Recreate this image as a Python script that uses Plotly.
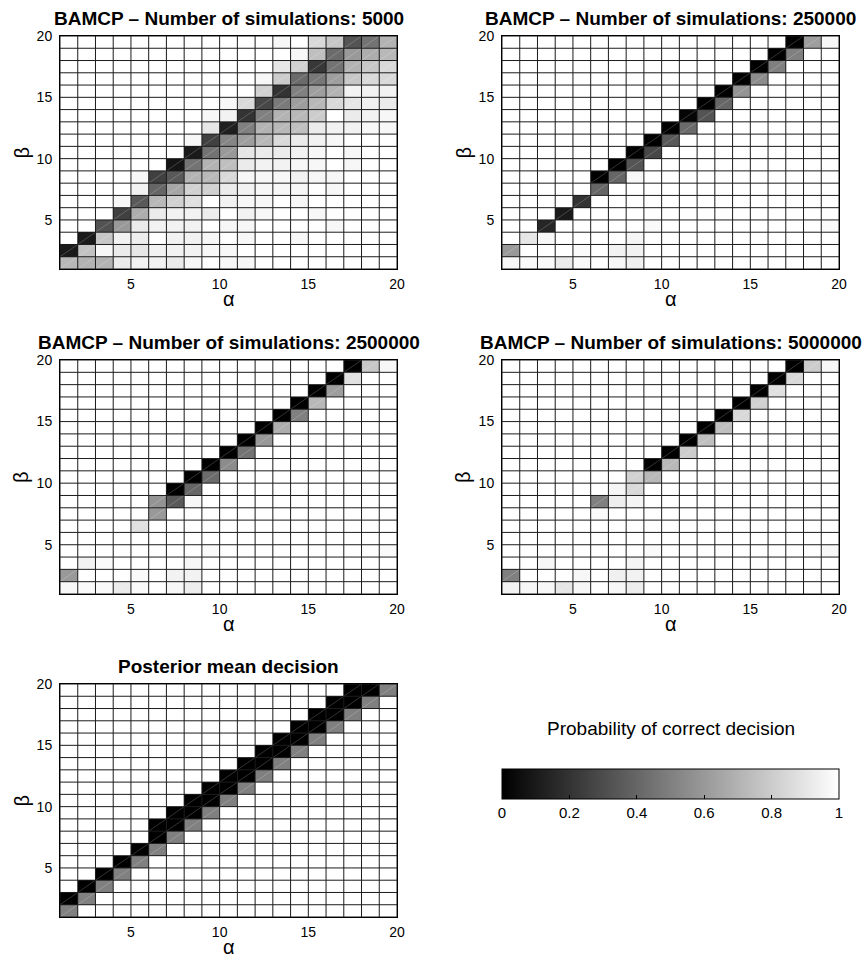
import plotly.graph_objects as go

# ---------------- data ----------------
alpha_edges = [1, 2, 3, 4, 5, 6, 7, 8, 9, 10, 11, 12, 13, 14, 15, 16, 17, 18, 19, 20]
beta_edges = [1, 2, 3, 4, 5, 6, 7, 8, 9, 10, 11, 12, 13, 14, 15, 16, 17, 18, 19, 20]
axis_ticks = [5, 10, 15, 20]
cb_ticks = [0, 0.2, 0.4, 0.6, 0.8, 1]
cb_ticktext = ["0", "0.2", "0.4", "0.6", "0.8", "1"]
cb_title = "Probability of correct decision"
panel_titles = [
    "BAMCP \u2013 Number of simulations: 5000",
    "BAMCP \u2013 Number of simulations: 250000",
    "BAMCP \u2013 Number of simulations: 2500000",
    "BAMCP \u2013 Number of simulations: 5000000",
    "Posterior mean decision",
]

# rows listed from beta=19 (top) down to beta=1 (bottom); columns alpha=1..19
sims_5000 = [
    [1, 1, 1, 1, 1, 1, 1, 1, 1, 1, 1, 1, 0.97, 1, 0.85, 0.78, 0.33, 0.45, 0.7],
    [1, 1, 1, 1, 1, 1, 1, 1, 1, 1, 1, 1, 1, 0.97, 0.75, 0.42, 0.6, 0.68, 0.72],
    [1, 1, 1, 1, 1, 1, 1, 1, 1, 1, 1, 1, 0.9, 0.82, 0.22, 0.45, 0.7, 0.78, 0.85],
    [1, 1, 1, 1, 1, 1, 1, 1, 1, 1, 1, 0.97, 0.8, 0.42, 0.47, 0.62, 0.78, 0.85, 0.85],
    [1, 1, 1, 1, 1, 1, 1, 1, 1, 1, 1, 0.82, 0.2, 0.5, 0.62, 0.7, 0.95, 0.95, 0.95],
    [1, 1, 1, 1, 1, 1, 1, 1, 1, 0.97, 0.85, 0.28, 0.48, 0.62, 0.72, 0.85, 0.9, 0.95, 0.92],
    [1, 1, 1, 1, 1, 1, 1, 1, 0.97, 0.95, 0.2, 0.5, 0.7, 0.72, 0.8, 1, 0.92, 0.95, 0.97],
    [1, 1, 1, 1, 1, 1, 1, 1, 0.9, 0.12, 0.5, 0.7, 0.72, 0.75, 0.92, 0.95, 0.95, 0.97, 0.97],
    [1, 1, 1, 1, 1, 1, 1, 0.97, 0.25, 0.52, 0.62, 0.72, 0.85, 0.92, 0.95, 0.97, 1, 1, 1],
    [1, 1, 1, 1, 1, 1, 1, 0.1, 0.45, 0.6, 0.9, 0.92, 0.92, 0.95, 0.97, 1, 0.97, 1, 1],
    [1, 1, 1, 1, 1, 1, 0.08, 0.45, 0.7, 0.75, 0.92, 0.95, 0.95, 0.97, 0.97, 1, 0.97, 1, 1],
    [1, 1, 1, 1, 0.97, 0.25, 0.35, 0.7, 0.72, 0.85, 0.97, 0.97, 0.97, 0.95, 0.97, 0.97, 1, 1, 1],
    [1, 1, 1, 1, 0.95, 0.4, 0.65, 0.82, 0.82, 0.92, 0.95, 0.97, 0.97, 0.97, 1, 0.97, 1, 1, 1],
    [1, 1, 1, 0.97, 0.35, 0.72, 0.82, 0.88, 1, 0.95, 0.97, 0.97, 1, 0.97, 1, 1, 1, 1, 1],
    [1, 1, 1, 0.25, 0.68, 0.92, 0.95, 0.95, 0.93, 1, 0.95, 0.97, 1, 1, 0.97, 1, 1, 1, 1],
    [1, 1, 0.32, 0.6, 0.92, 0.95, 0.95, 0.95, 1, 0.97, 0.97, 1, 1, 1, 1, 0.97, 1, 1, 1],
    [1, 0.1, 0.78, 0.95, 0.93, 1, 0.95, 0.95, 0.97, 1, 0.97, 1, 1, 0.97, 1, 1, 1, 1, 1],
    [0.1, 0.76, 0.97, 0.92, 0.9, 0.95, 0.95, 0.95, 0.97, 0.97, 1, 1, 1, 1, 1, 1, 1, 1, 1],
    [0.72, 0.7, 0.7, 0.92, 0.95, 0.95, 0.92, 0.97, 1, 0.97, 0.97, 1, 1, 1, 1, 1, 1, 1, 1],
]

sims_250000 = [
    [1, 1, 1, 1, 1, 1, 1, 1, 1, 1, 1, 1, 1, 1, 1, 1, 0.0, 0.62, 0.97],
    [1, 1, 1, 1, 1, 1, 1, 1, 1, 1, 1, 1, 1, 1, 1, 0.0, 0.5, 1, 1],
    [1, 1, 1, 1, 1, 1, 1, 1, 1, 1, 1, 1, 1, 1, 0.0, 0.5, 1, 1, 1],
    [1, 1, 1, 1, 1, 1, 1, 1, 1, 1, 1, 1, 1, 0.0, 0.55, 1, 1, 1, 1],
    [1, 1, 1, 1, 1, 1, 1, 1, 1, 1, 1, 1, 0.0, 0.58, 1, 1, 1, 1, 1],
    [1, 1, 1, 1, 1, 1, 1, 1, 1, 1, 1, 0.0, 0.4, 1, 1, 1, 1, 1, 1],
    [1, 1, 1, 1, 1, 1, 1, 1, 1, 1, 0.02, 0.33, 1, 1, 1, 1, 1, 1, 1],
    [1, 1, 1, 1, 1, 1, 1, 1, 1, 0.0, 0.42, 1, 1, 1, 1, 1, 1, 1, 1],
    [1, 1, 1, 1, 1, 1, 1, 1, 0.0, 0.35, 1, 1, 1, 1, 1, 1, 1, 1, 1],
    [1, 1, 1, 1, 1, 1, 1, 0.0, 0.28, 1, 1, 1, 1, 1, 1, 1, 1, 1, 1],
    [1, 1, 1, 1, 1, 1, 0.0, 0.33, 1, 1, 1, 1, 1, 1, 1, 1, 1, 1, 1],
    [1, 1, 1, 1, 1, 0.0, 0.4, 0.97, 1, 1, 1, 1, 1, 1, 1, 1, 1, 1, 1],
    [1, 1, 1, 1, 1, 0.4, 1, 1, 1, 1, 1, 1, 1, 1, 1, 1, 1, 1, 1],
    [1, 1, 1, 1, 0.2, 1, 1, 1, 1, 1, 1, 1, 1, 1, 1, 1, 1, 1, 1],
    [1, 1, 1, 0.1, 1, 1, 1, 1, 1, 1, 1, 1, 1, 1, 1, 1, 1, 1, 1],
    [1, 1, 0.15, 1, 1, 1, 1, 1, 0.98, 1, 1, 1, 1, 1, 1, 1, 1, 1, 0.98],
    [1, 0.9, 0.97, 1, 1, 1, 1, 0.96, 1, 1, 1, 1, 1, 1, 1, 1, 1, 1, 1],
    [0.6, 1, 1, 1, 0.98, 1, 0.95, 0.95, 1, 1, 1, 1, 1, 1, 1, 1, 1, 1, 1],
    [0.97, 0.98, 0.98, 0.92, 0.98, 1, 0.97, 0.94, 1, 1, 1, 1, 1, 1, 1, 1, 1, 1, 1],
]

sims_2500000 = [
    [1, 1, 1, 1, 1, 1, 1, 1, 1, 1, 1, 1, 1, 1, 1, 1, 0.0, 0.78, 0.97],
    [1, 1, 1, 1, 1, 1, 1, 1, 1, 1, 1, 1, 1, 1, 1, 0.0, 0.88, 1, 1],
    [1, 1, 1, 1, 1, 1, 1, 1, 1, 1, 1, 1, 1, 1, 0.0, 0.62, 1, 1, 1],
    [1, 1, 1, 1, 1, 1, 1, 1, 1, 1, 1, 1, 1, 0.0, 0.72, 1, 1, 1, 1],
    [1, 1, 1, 1, 1, 1, 1, 1, 1, 1, 1, 1, 0.0, 0.5, 1, 1, 1, 1, 1],
    [1, 1, 1, 1, 1, 1, 1, 1, 1, 1, 1, 0.0, 0.68, 1, 1, 1, 1, 1, 1],
    [1, 1, 1, 1, 1, 1, 1, 1, 1, 1, 0.0, 0.6, 1, 1, 1, 1, 1, 1, 1],
    [1, 1, 1, 1, 1, 1, 1, 1, 1, 0.0, 0.45, 1, 1, 1, 1, 1, 1, 1, 1],
    [1, 1, 1, 1, 1, 1, 1, 1, 0.0, 0.55, 1, 1, 1, 1, 1, 1, 1, 1, 1],
    [1, 1, 1, 1, 1, 1, 1, 0.0, 0.42, 1, 1, 1, 1, 1, 1, 1, 1, 1, 1],
    [1, 1, 1, 1, 1, 1, 0.0, 0.4, 1, 1, 1, 1, 1, 1, 1, 1, 1, 1, 1],
    [1, 1, 1, 1, 1, 0.58, 0.35, 0.97, 1, 1, 1, 1, 1, 1, 1, 1, 1, 1, 1],
    [1, 1, 1, 1, 1, 0.6, 1, 1, 1, 1, 1, 1, 1, 1, 1, 1, 1, 1, 1],
    [1, 1, 1, 1, 0.88, 1, 1, 1, 1, 1, 1, 1, 1, 1, 1, 1, 1, 1, 1],
    [1, 1, 1, 1, 1, 1, 1, 1, 1, 1, 1, 1, 1, 1, 1, 1, 1, 1, 1],
    [1, 1, 1, 1, 1, 1, 1, 1, 0.98, 1, 1, 1, 1, 1, 1, 1, 1, 1, 0.98],
    [1, 0.95, 0.98, 1, 1, 1, 1, 0.97, 1, 1, 1, 1, 1, 1, 1, 1, 1, 1, 1],
    [0.6, 1, 1, 1, 0.98, 1, 0.95, 0.95, 1, 1, 1, 1, 1, 1, 1, 1, 1, 1, 1],
    [0.97, 0.98, 0.98, 0.92, 0.98, 1, 0.97, 0.93, 1, 1, 1, 1, 1, 1, 1, 1, 1, 1, 1],
]

sims_5000000 = [
    [1, 1, 1, 1, 1, 1, 1, 1, 1, 1, 1, 1, 1, 1, 1, 1, 0.0, 0.8, 0.97],
    [1, 1, 1, 1, 1, 1, 1, 1, 1, 1, 1, 1, 1, 1, 1, 0.0, 0.85, 1, 1],
    [1, 1, 1, 1, 1, 1, 1, 1, 1, 1, 1, 1, 1, 1, 0.0, 0.88, 1, 1, 1],
    [1, 1, 1, 1, 1, 1, 1, 1, 1, 1, 1, 1, 1, 0.0, 0.82, 1, 1, 1, 1],
    [1, 1, 1, 1, 1, 1, 1, 1, 1, 1, 1, 1, 0.0, 0.85, 1, 1, 1, 1, 1],
    [1, 1, 1, 1, 1, 1, 1, 1, 1, 1, 1, 0.0, 0.75, 1, 1, 1, 1, 1, 1],
    [1, 1, 1, 1, 1, 1, 1, 1, 1, 1, 0.0, 0.75, 1, 1, 1, 1, 1, 1, 1],
    [1, 1, 1, 1, 1, 1, 1, 1, 1, 0.0, 0.8, 1, 1, 1, 1, 1, 1, 1, 1],
    [1, 1, 1, 1, 1, 1, 1, 1, 0.0, 0.72, 1, 1, 1, 1, 1, 1, 1, 1, 1],
    [1, 1, 1, 1, 1, 1, 1, 0.82, 0.72, 1, 1, 1, 1, 1, 1, 1, 1, 1, 1],
    [1, 1, 1, 1, 1, 1, 0.96, 0.85, 1, 1, 1, 1, 1, 1, 1, 1, 1, 1, 1],
    [1, 1, 1, 1, 1, 0.5, 0.93, 0.96, 1, 1, 1, 1, 1, 1, 1, 1, 1, 1, 1],
    [1, 1, 1, 1, 1, 0.98, 1, 1, 1, 1, 1, 1, 1, 1, 1, 1, 1, 1, 1],
    [1, 1, 1, 1, 1, 1, 1, 1, 1, 1, 1, 1, 1, 1, 1, 1, 1, 1, 1],
    [1, 1, 1, 1, 1, 1, 1, 1, 1, 1, 1, 1, 1, 1, 1, 1, 1, 1, 1],
    [1, 1, 1, 1, 1, 1, 1, 1, 0.98, 1, 1, 1, 1, 1, 1, 1, 1, 1, 0.97],
    [1, 1, 0.97, 1, 1, 1, 1, 0.96, 1, 1, 1, 1, 1, 1, 1, 1, 1, 1, 1],
    [0.5, 1, 1, 1, 0.97, 1, 0.94, 0.95, 1, 1, 1, 1, 1, 1, 1, 1, 1, 1, 1],
    [0.95, 0.97, 0.97, 0.9, 0.97, 1, 0.97, 0.93, 1, 1, 1, 1, 1, 1, 1, 1, 1, 1, 1],
]

posterior_mean = [
    [1, 1, 1, 1, 1, 1, 1, 1, 1, 1, 1, 1, 1, 1, 1, 1, 0, 0, 0.5],
    [1, 1, 1, 1, 1, 1, 1, 1, 1, 1, 1, 1, 1, 1, 1, 0, 0, 0.5, 1],
    [1, 1, 1, 1, 1, 1, 1, 1, 1, 1, 1, 1, 1, 1, 0, 0, 0.5, 1, 1],
    [1, 1, 1, 1, 1, 1, 1, 1, 1, 1, 1, 1, 1, 0, 0, 0.5, 1, 1, 1],
    [1, 1, 1, 1, 1, 1, 1, 1, 1, 1, 1, 1, 0, 0, 0.5, 1, 1, 1, 1],
    [1, 1, 1, 1, 1, 1, 1, 1, 1, 1, 1, 0, 0, 0.5, 1, 1, 1, 1, 1],
    [1, 1, 1, 1, 1, 1, 1, 1, 1, 1, 0, 0, 0.5, 1, 1, 1, 1, 1, 1],
    [1, 1, 1, 1, 1, 1, 1, 1, 1, 0, 0, 0.5, 1, 1, 1, 1, 1, 1, 1],
    [1, 1, 1, 1, 1, 1, 1, 1, 0, 0, 0.5, 1, 1, 1, 1, 1, 1, 1, 1],
    [1, 1, 1, 1, 1, 1, 1, 0, 0, 0.5, 1, 1, 1, 1, 1, 1, 1, 1, 1],
    [1, 1, 1, 1, 1, 1, 0, 0, 0.5, 1, 1, 1, 1, 1, 1, 1, 1, 1, 1],
    [1, 1, 1, 1, 1, 0, 0, 0.5, 1, 1, 1, 1, 1, 1, 1, 1, 1, 1, 1],
    [1, 1, 1, 1, 1, 0, 0.5, 1, 1, 1, 1, 1, 1, 1, 1, 1, 1, 1, 1],
    [1, 1, 1, 1, 0, 0.5, 1, 1, 1, 1, 1, 1, 1, 1, 1, 1, 1, 1, 1],
    [1, 1, 1, 0, 0.5, 1, 1, 1, 1, 1, 1, 1, 1, 1, 1, 1, 1, 1, 1],
    [1, 1, 0, 0.5, 1, 1, 1, 1, 1, 1, 1, 1, 1, 1, 1, 1, 1, 1, 1],
    [1, 0, 0.5, 1, 1, 1, 1, 1, 1, 1, 1, 1, 1, 1, 1, 1, 1, 1, 1],
    [0, 0.5, 1, 1, 1, 1, 1, 1, 1, 1, 1, 1, 1, 1, 1, 1, 1, 1, 1],
    [0.5, 1, 1, 1, 1, 1, 1, 1, 1, 1, 1, 1, 1, 1, 1, 1, 1, 1, 1],
]

panels = [sims_5000, sims_250000, sims_2500000, sims_5000000, posterior_mean]

# ---------------- layout geometry (pixels) ----------------
W, H = 864, 958
FONT = "Liberation Sans, Arial, Helvetica, sans-serif"
col_px = [(60, 397), (502, 839)]
row_px = [(36, 269), (360, 594), (684, 917)]
positions = [(0, 0), (0, 1), (1, 0), (1, 1), (2, 0)]

def xdom(c):
    return [col_px[c][0] / W, col_px[c][1] / W]

def ydom(r):
    return [1 - row_px[r][1] / H, 1 - row_px[r][0] / H]

gray = [[0.0, "rgb(0,0,0)"], [1.0, "rgb(255,255,255)"]]

fig = go.Figure()
layout = dict(
    template="none",
    width=W, height=H, autosize=False,
    margin=dict(l=0, r=0, t=0, b=0, autoexpand=False),
    paper_bgcolor="white", plot_bgcolor="white",
    showlegend=False,
    font=dict(family=FONT, color="black", size=14),
)
annotations = []

lo, hi = alpha_edges[0], alpha_edges[-1]
for i, (data, title, (r, c)) in enumerate(zip(panels, panel_titles, positions)):
    n = "" if i == 0 else str(i + 1)
    xa, ya = "x" + n, "y" + n
    z = data[::-1]  # bottom row first (beta ascending)
    hm = go.Heatmap(
        x=alpha_edges, y=beta_edges, z=z, zmin=0, zmax=1,
        colorscale=gray, hoverinfo="skip",
        xaxis=xa, yaxis=ya, showscale=(i == 0),
    )
    if i == 0:
        hm.colorbar = dict(
            orientation="h", x=670.5 / W, xanchor="center",
            y=1 - 769 / H, yanchor="top",
            len=337 / W, lenmode="fraction",
            thickness=30, thicknessmode="pixels",
            outlinecolor="black", outlinewidth=1,
            ticks="inside", ticklen=4, tickcolor="black", tickwidth=1,
            tickvals=cb_ticks, ticktext=cb_ticktext,
            tickfont=dict(family=FONT, size=15, color="black"),
            xpad=0, ypad=0,
        )
    fig.add_trace(hm)

    # rendering seams: faint diagonals through each cell (bottom-left to top-right)
    dx, dy = [], []
    for k in range(-(hi - lo - 1), hi - lo):
        x0, x1 = max(lo, lo - k), min(hi, hi - k)
        dx += [x0, x1, None]
        dy += [x0 + k, x1 + k, None]
    fig.add_trace(go.Scatter(
        x=dx, y=dy, mode="lines", hoverinfo="skip",
        line=dict(color="rgba(255,255,255,0.33)", width=0.6),
        xaxis=xa, yaxis=ya,
    ))

    # cell borders
    gx, gy = [], []
    for e in alpha_edges:
        gx += [e, e, None]
        gy += [lo, hi, None]
    for e in beta_edges:
        gx += [lo, hi, None]
        gy += [e, e, None]
    fig.add_trace(go.Scatter(
        x=gx, y=gy, mode="lines", hoverinfo="skip",
        line=dict(color="#1c1c1c", width=1),
        xaxis=xa, yaxis=ya,
    ))

    axis_common = dict(
        range=[lo, hi], tickvals=axis_ticks, ticks="", showgrid=False,
        zeroline=False, showline=True, mirror=True, linecolor="black",
        linewidth=1, tickfont=dict(family=FONT, size=14, color="black"),
        fixedrange=True, automargin=False,
    )
    layout["xaxis" + n] = dict(axis_common, domain=xdom(c), anchor=ya,
                               ticklabelstandoff=2)
    layout["yaxis" + n] = dict(axis_common, domain=ydom(r), anchor=xa,
                               ticklabelstandoff=4)

    xc = (col_px[c][0] + col_px[c][1]) / 2 / W
    annotations.append(dict(
        text="<b>" + title + "</b>", xref="paper", yref="paper",
        x=xc, y=ydom(r)[1], xanchor="center", yanchor="bottom", yshift=5,
        showarrow=False, font=dict(family=FONT, size=19, color="black"),
    ))
    annotations.append(dict(
        text="\u03b1", xref="paper", yref="paper",
        x=xc, y=1 - (row_px[r][1] + 30) / H, xanchor="center", yanchor="middle",
        showarrow=False, font=dict(family=FONT, size=20, color="black"),
    ))
    annotations.append(dict(
        text="\u03b2", xref="paper", yref="paper", textangle=-90,
        x=(col_px[c][0] - 39) / W, y=(ydom(r)[0] + ydom(r)[1]) / 2,
        xanchor="center", yanchor="middle",
        showarrow=False, font=dict(family=FONT, size=20, color="black"),
    ))

annotations.append(dict(
    text=cb_title, xref="paper", yref="paper",
    x=670.5 / W, y=1 - 728 / H, xanchor="center", yanchor="middle",
    showarrow=False, font=dict(family=FONT, size=19, color="black"),
))
layout["annotations"] = annotations
fig.update_layout(**layout)

# the page's default 8px body margin would shift the figure; remove it
fig.write_html(
    "out.html",
    config={"displayModeBar": False, "staticPlot": True},
    post_script="document.body.style.margin='0';document.body.style.overflow='hidden';",
)
